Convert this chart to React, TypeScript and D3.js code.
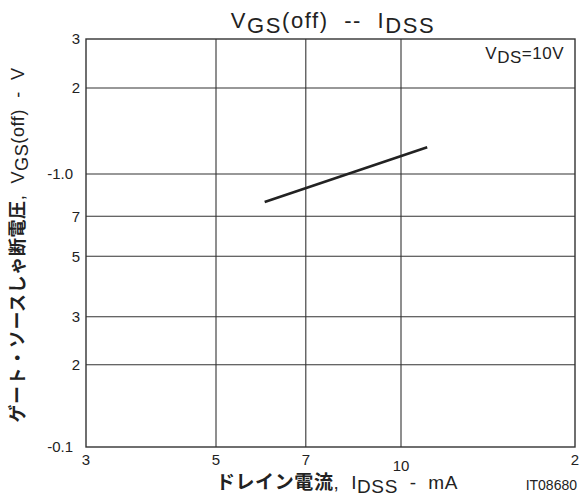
import React from 'react';
import * as d3 from 'd3';

// IDSS (mA) vs VGS(off) (V), VDS = 10V
const idss = [6.0, 11.1];
const vgsOff = [0.79, 1.24];

const xGrid = [5, 7, 10];
const yGrid = [2, 1, 0.7, 0.5, 0.3, 0.2];
const xTicks = [3, 5, 7, 10, 20];
const xTickLabels = ['3', '5', '7', '10', '2'];
const yTicks = [3, 2, 1, 0.7, 0.5, 0.3, 0.2, 0.1];
const yTickLabels = ['3', '2', '-1.0', '7', '5', '3', '2', '-0.1'];

const W = 581;
const H = 499;
const FONT = '"Liberation Sans", Arial, Helvetica, sans-serif';
const JP = '"Noto Sans CJK JP", "Noto Sans CJK SC", sans-serif';

const App: React.FC = () => {
  const left = 86, right = 575, top = 39, bottom = 447;

  // the printed grid is not strictly logarithmic, so the scale is anchored at a few decades
  const x = d3.scaleLog().domain([3, 5, 10, 20]).range([left, 216, 401, right]);
  const y = d3.scaleLog().domain([0.1, 1, 2, 3]).range([bottom, 174, 88, top]);

  const line = d3
    .line<number>()
    .x((d) => x(d))
    .y((_, i) => y(vgsOff[i]));

  const ink = '#222';
  const pre = { whiteSpace: 'pre' as const };

  return (
    <svg width={W} height={H} style={{ position: 'absolute', left: 0, top: 0, background: '#fff' }}>
      <rect width={W} height={H} fill="#fff" />

      {/* grid */}
      <g stroke="#333" strokeWidth={1.1}>
        {xGrid.map((v) => (
          <line key={`gx${v}`} x1={x(v)} x2={x(v)} y1={top} y2={bottom} />
        ))}
        {yGrid.map((v) => (
          <line key={`gy${v}`} x1={left} x2={right} y1={y(v)} y2={y(v)} />
        ))}
      </g>
      <rect x={left} y={top} width={right - left} height={bottom - top} fill="none" stroke="#333" strokeWidth={1.4} />

      {/* data */}
      <path d={line(idss) || undefined} fill="none" stroke={ink} strokeWidth={2.6} />

      {/* y tick labels */}
      <g fontFamily={FONT} fontSize={15} fill="#222" textAnchor="end">
        {yTicks.map((v, i) => (
          <text key={`yt${i}`} x={yTickLabels[i].includes('.') ? 73 : 80} y={y(v)} dy="0.36em">
            {yTickLabels[i]}
          </text>
        ))}
      </g>

      {/* x tick labels */}
      <g fontFamily={FONT} fontSize={15} fill="#222" textAnchor="middle">
        {xTicks.map((v, i) => (
          <text key={`xt${i}`} x={x(v)} y={xTickLabels[i] === '10' ? 471 : 465}>
            {xTickLabels[i]}
          </text>
        ))}
      </g>

      {/* title */}
      <text x={333} y={28} fontFamily={FONT} fontSize={22} letterSpacing={1.6} fill="#222" textAnchor="middle" style={pre}>
        V<tspan dy={5}>GS</tspan>
        <tspan dy={-5}>(off)  --  I</tspan>
        <tspan dy={5}>DSS</tspan>
      </text>

      {/* condition */}
      <text x={564} y={59} fontFamily={FONT} fontSize={17} fill="#222" textAnchor="end" letterSpacing={0.5}>
        V<tspan dy={4}>DS</tspan>
        <tspan dy={-4}>=10V</tspan>
      </text>

      {/* y axis title */}
      <text
        transform={`translate(24,${(top + bottom) / 2 + 2}) rotate(-90)`}
        fontFamily={FONT}
        fontSize={18}
        fill="#222"
        textAnchor="middle"
        letterSpacing={0.6}
        style={pre}
      >
        <tspan fontFamily={JP} fontWeight="bold">ゲート・ソースしゃ断電圧</tspan>
        <tspan>,  V</tspan>
        <tspan dy={4}>GS</tspan>
        <tspan dy={-4}>(off)  -  V</tspan>
      </text>

      {/* x axis title */}
      <text x={337} y={489} fontFamily={FONT} fontSize={19} fill="#222" textAnchor="middle" letterSpacing={0.6} style={pre}>
        <tspan fontFamily={JP} fontWeight="bold">ドレイン電流</tspan>
        <tspan>,  I</tspan>
        <tspan dy={4}>DSS</tspan>
        <tspan dy={-4}>  -  mA</tspan>
      </text>

      <text x={577} y={490} fontFamily={FONT} fontSize={14} fill="#222" textAnchor="end">
        IT08680
      </text>
    </svg>
  );
};

export default App;
